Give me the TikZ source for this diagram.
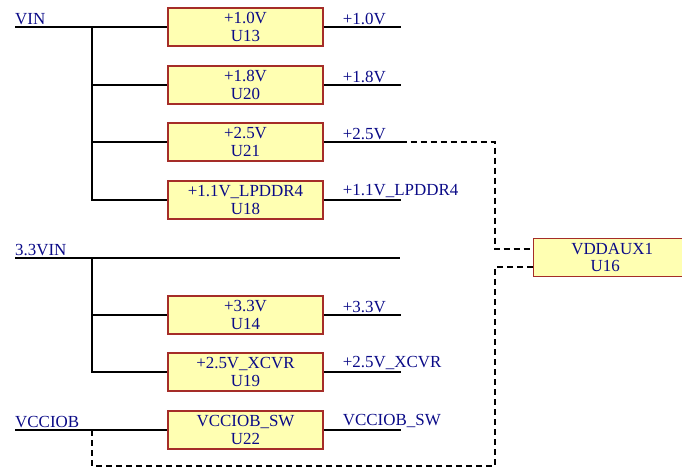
\documentclass[tikz,border=0pt]{standalone}
\usepackage{fontspec}
\setmainfont{Liberation Serif}
\usetikzlibrary{positioning}

\definecolor{netblue}{RGB}{10,10,135}
\definecolor{regfill}{RGB}{255,255,178}
\definecolor{regline}{RGB}{165,45,40}

\begin{document}
\begin{tikzpicture}[
  x=1bp, y=-1bp,
  every node/.style={font=\fontsize{17}{18.2}\selectfont, text=netblue, inner sep=0pt},
  reg/.style={draw=regline, fill=regfill, line width=1.4bp, minimum width=155bp, minimum height=38bp, align=center},
  net/.style={anchor=south west, yshift=2.5bp},
  wire/.style={draw, line width=2bp},
  aux/.style={draw, line width=2bp, dash pattern=on 6bp off 4bp}
]
\useasboundingbox (0,0) rectangle (682,469);

% regulators
\node[reg] (u13) at (245.5,27) {+1.0V\\U13};
\node[reg] (u20) at (245.5,85) {+1.8V\\U20};
\node[reg] (u21) at (245.5,142) {+2.5V\\U21};
\node[reg] (u18) at (245.5,200) {+1.1V\_LPDDR4\\U18};
\node[reg] (u14) at (245.5,315) {+3.3V\\U14};
\node[reg] (u19) at (245.5,372) {+2.5V\_XCVR\\U19};
\node[reg] (u22) at (245.5,430) {VCCIOB\_SW\\U22};
\node[reg, minimum width=170bp, anchor=west] (u16) at (533,257.5) {\hspace*{-13bp}VDDAUX1\\[-1bp]\hspace*{-27bp}U16};

% input nets
\coordinate (vin) at (15,27);
\coordinate (vbus) at (92,27);
\coordinate (vin33) at (15,258);
\coordinate (vbus33) at (92,258);
\coordinate (vin33end) at (400,258);
\coordinate (vio) at (15,430);
\coordinate (viotap) at (92,430);
\node[net] (lvin) at (vin) {VIN};
\node[net] (lvin33) at (vin33) {3.3VIN};
\node[net] (lvio) at (vio) {VCCIOB};

\draw[wire] (vin) -- (u13.west);
\draw[wire] (vbus) |- (u20.west);
\draw[wire] (vbus) |- (u21.west);
\draw[wire] (vbus) |- (u18.west);
\draw[wire] (vin33) -- (vin33end);
\draw[wire] (vbus33) |- (u14.west);
\draw[wire] (vbus33) |- (u19.west);
\draw[wire] (vio) -- (u22.west);

% output nets
\foreach \u/\txt in {u13/+1.0V, u20/+1.8V, u21/+2.5V, u18/+1.1V\_LPDDR4, u14/+3.3V, u19/+2.5V\_XCVR, u22/VCCIOB\_SW} {
  \coordinate (\u out) at ([xshift=77bp]\u.east);
  \draw[wire] (\u.east) -- (\u out);
  \node[net] (\u lbl) at ([xshift=19bp]\u.east) {\txt};
}

% aux supply
\draw[aux] (u21out) -| (495,249) -- (u16.west |- 0,249);
\draw[aux] (u16.west |- 0,267) -| (495,466) -| (viotap);
\end{tikzpicture}
\end{document}
